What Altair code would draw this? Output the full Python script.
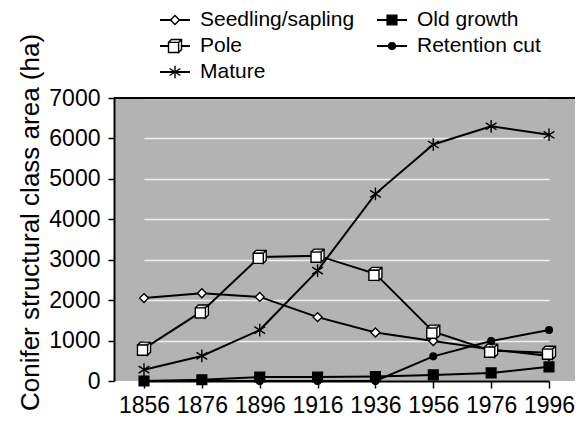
import altair as alt
import pandas as pd

# ---- data ----
years = [1856, 1876, 1896, 1916, 1936, 1956, 1976, 1996]
seedling_sapling = [2050, 2170, 2080, 1580, 1200, 990, 780, 620]
pole = [800, 1720, 3070, 3100, 2650, 1220, 750, 700]
mature = [280, 620, 1260, 2730, 4630, 5850, 6300, 6090]
old_growth = [0, 30, 100, 100, 110, 150, 200, 350]
retention_cut = [0, 0, 0, 0, 0, 610, 990, 1260]

series_names = ["Seedling/sapling", "Pole", "Mature", "Old growth", "Retention cut"]
series_values = [seedling_sapling, pole, mature, old_growth, retention_cut]
y_ticks = [0, 1000, 2000, 3000, 4000, 5000, 6000, 7000]

rows = []
for name, vals in zip(series_names, series_values):
    for yr, v in zip(years, vals):
        rows.append({"year": yr, "area": v, "series": name})
df = pd.DataFrame(rows)

FONT = "Liberation Sans"
W, H = 461, 283

# marker styles (shape path, fill, size)
box3d = ("M-1,-0.55L0.55,-0.55L0.55,1L-1,1Z"
         "M-1,-0.55L-0.55,-1L1,-1L1,0.55L0.55,1L0.55,-0.55L1,-1")
asterisk = "M0,-1L0,1M-0.85,-0.55L0.85,0.55M-0.85,0.55L0.85,-0.55"
styles = {
    "Seedling/sapling": dict(shape="diamond", fill="white", size=80),
    "Pole": dict(shape=box3d, fill="white", size=170),
    "Mature": dict(shape=asterisk, fill="black", size=160),
    "Old growth": dict(shape="square", fill="black", size=95),
    "Retention cut": dict(shape="circle", fill="black", size=45),
}
# legend placement (column, row)
legend_pos = {
    "Seedling/sapling": (0, 0), "Pole": (0, 1), "Mature": (0, 2),
    "Old growth": (1, 0), "Retention cut": (1, 1),
}
col_x = [46, 263]
row_y = [-78, -52, -26]

x_enc = alt.X("year:O", scale=alt.Scale(type="point", padding=0, range=[30, 435]),
              axis=alt.Axis(title=None, labelAngle=0, grid=False, tickSize=7,
                            labelPadding=6))
y_enc = alt.Y("area:Q", scale=alt.Scale(domain=[0, 7000], nice=False),
              axis=alt.Axis(values=y_ticks, format="d",
                            title="Conifer structural class area (ha)",
                            tickSize=6, labelPadding=8, grid=True, gridColor="#f0f0f0",
                            gridWidth=1.5, titlePadding=5, titleY=124))

layers = []
layers.append(
    alt.Chart(df).mark_line(color="black", strokeWidth=2).encode(
        x=x_enc, y=y_enc, detail="series:N")
)
for name in series_names:
    st = styles[name]
    layers.append(
        alt.Chart(df).transform_filter(alt.datum.series == name).mark_point(
            shape=st["shape"], fill=st["fill"], filled=True, stroke="black",
            strokeWidth=1.4, size=st["size"], opacity=1
        ).encode(x=x_enc, y=y_enc)
    )

# top frame line
layers.append(
    alt.Chart(pd.DataFrame({"k": [0]})).mark_rule(color="black", strokeWidth=2).encode(
        x=alt.value(0), x2=alt.value(W), y=alt.value(0))
)

# legend
for name in series_names:
    st = styles[name]
    c, r = legend_pos[name]
    lx, ly = col_x[c], row_y[r]
    ldf = pd.DataFrame({"label": [name]})
    layers.append(
        alt.Chart(ldf).mark_rule(color="black", strokeWidth=2).encode(
            x=alt.value(lx), x2=alt.value(lx + 30), y=alt.value(ly))
    )
    layers.append(
        alt.Chart(ldf).mark_point(
            shape=st["shape"], fill=st["fill"], filled=True, stroke="black",
            strokeWidth=1.4, size=st["size"], opacity=1
        ).encode(x=alt.value(lx + 15), y=alt.value(ly))
    )
    layers.append(
        alt.Chart(ldf).mark_text(align="left", baseline="middle", font=FONT,
                                 fontSize=21, color="black").encode(
            x=alt.value(lx + 40), y=alt.value(ly), text="label:N")
    )

chart = alt.layer(*layers).properties(
    width=W, height=H, background="white",
    autosize=alt.AutoSizeParams(type="none"),
    padding={"left": 106, "top": 90, "right": 0, "bottom": 41},
).configure_view(
    fill="#b3b3b3", stroke=None
).configure_axis(
    labelFont=FONT, labelFontSize=23, labelColor="black",
    titleFont=FONT, titleFontSize=26, titleFontWeight="normal", titleColor="black",
    domainColor="black", domainWidth=2, tickColor="black", tickWidth=1.5
)

chart.save("out.html", embed_options={"renderer": "svg", "actions": False})
